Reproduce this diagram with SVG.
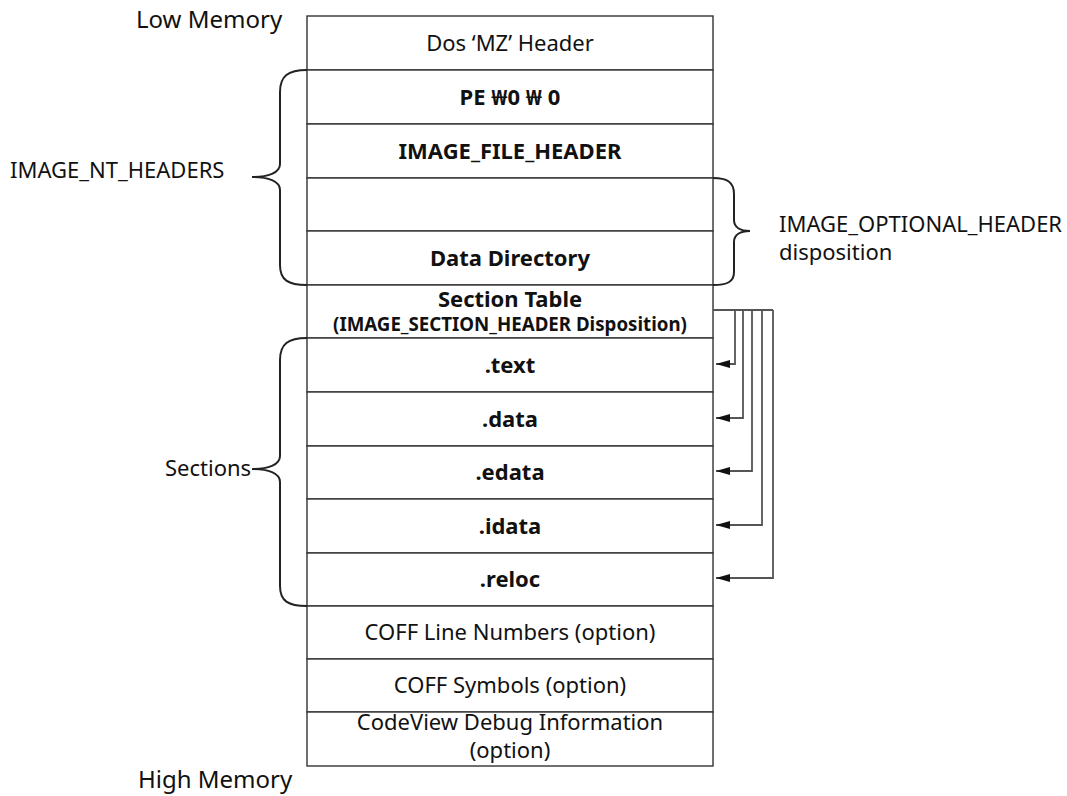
<svg xmlns="http://www.w3.org/2000/svg" width="1067" height="796" viewBox="0 0 1067 796">
  <style>
    .cell { fill: #ffffff; stroke: #333333; stroke-width: 1.4; }
    .t { font-family: "Noto Sans", "Open Sans", "DejaVu Sans", sans-serif; fill: #111111; }
    .c { text-anchor: middle; font-size: 22px; }
    .b { font-weight: bold; }
    .lbl { font-size: 22px; }
    .mem { font-size: 24px; }
    .sub { font-size: 18.7px; }
    .brace { fill: none; stroke: #222222; stroke-width: 2; }
    .wire { fill: none; stroke: #555555; stroke-width: 1.8; }
  </style>
  <defs>
    <marker id="arrow" viewBox="0 0 14 8" refX="14" refY="4" markerWidth="14" markerHeight="8" markerUnits="userSpaceOnUse" orient="auto">
      <path d="M0,0 L14,4 L0,8 Z" fill="#111111"/>
    </marker>
  </defs>

  <rect width="1067" height="796" fill="#ffffff"/>

  <text class="t mem" x="136" y="28">Low Memory</text>
  <text class="t mem" x="138" y="788">High Memory</text>

  <g id="dos-header">
    <rect class="cell" x="307" y="16" width="406" height="54"/>
    <text class="t c" x="510" y="51">Dos ‘MZ’ Header</text>
  </g>
  <g id="pe-signature">
    <rect class="cell" x="307" y="70" width="406" height="54"/>
    <text class="t c b" x="510" y="105">PE ₩0 ₩ 0</text>
  </g>
  <g id="image-file-header">
    <rect class="cell" x="307" y="124" width="406" height="54"/>
    <text class="t c b" x="510" y="159">IMAGE_FILE_HEADER</text>
  </g>
  <g id="optional-header">
    <rect class="cell" x="307" y="178" width="406" height="53"/>
  </g>
  <g id="data-directory">
    <rect class="cell" x="307" y="231" width="406" height="54"/>
    <text class="t c b" x="510" y="266">Data Directory</text>
  </g>
  <g id="section-table">
    <rect class="cell" x="307" y="285" width="406" height="53"/>
    <text class="t c b" x="510" y="307">Section Table<tspan class="sub" x="510" y="331">(IMAGE_SECTION_HEADER Disposition)</tspan></text>
  </g>
  <g id="sec-text">
    <rect class="cell" x="307" y="338" width="406" height="54"/>
    <text class="t c b" x="510" y="373">.text</text>
  </g>
  <g id="sec-data">
    <rect class="cell" x="307" y="392" width="406" height="54"/>
    <text class="t c b" x="510" y="427">.data</text>
  </g>
  <g id="sec-edata">
    <rect class="cell" x="307" y="446" width="406" height="53"/>
    <text class="t c b" x="510" y="480">.edata</text>
  </g>
  <g id="sec-idata">
    <rect class="cell" x="307" y="499" width="406" height="54"/>
    <text class="t c b" x="510" y="534">.idata</text>
  </g>
  <g id="sec-reloc">
    <rect class="cell" x="307" y="553" width="406" height="53"/>
    <text class="t c b" x="510" y="587">.reloc</text>
  </g>
  <g id="coff-lines">
    <rect class="cell" x="307" y="606" width="406" height="53"/>
    <text class="t c" x="510" y="640">COFF Line Numbers (option)</text>
  </g>
  <g id="coff-symbols">
    <rect class="cell" x="307" y="659" width="406" height="53"/>
    <text class="t c" x="510" y="693">COFF Symbols (option)</text>
  </g>
  <g id="codeview">
    <rect class="cell" x="307" y="712" width="406" height="54"/>
    <text class="t c" x="510" y="730">CodeView Debug Information<tspan x="510" y="758">(option)</tspan></text>
  </g>

  <g id="nt-headers-brace">
    <path class="brace" d="M307,70 C288,70 280,76 280,92 L280,164 C280,173 268,177 252,177 C268,177 280,181 280,190 L280,265 C280,280 288,285 307,285"/>
    <text class="t lbl" x="10" y="178">IMAGE_NT_HEADERS</text>
  </g>
  <g id="optional-header-brace">
    <path class="brace" d="M713,178 C727,178 734,182 734,194 L734,220 C734,227 740,231 750,231 C740,231 734,235 734,242 L734,272 C734,282 727,285 713,285"/>
    <text class="t lbl" x="779" y="232">IMAGE_OPTIONAL_HEADER<tspan x="779" y="260">disposition</tspan></text>
  </g>
  <g id="sections-brace">
    <path class="brace" d="M307,338 C288,338 280,344 280,360 L280,456 C280,465 268,469 252,469 C268,469 280,473 280,482 L280,586 C280,601 288,606 307,606"/>
    <text class="t lbl" x="165" y="476">Sections</text>
  </g>

  <g id="connectors">
    <path class="wire" d="M713,310 H773"/>
    <path class="wire" d="M735,310 V364 H716" marker-end="url(#arrow)"/>
    <path class="wire" d="M743,310 V418 H716" marker-end="url(#arrow)"/>
    <path class="wire" d="M752,310 V471 H716" marker-end="url(#arrow)"/>
    <path class="wire" d="M762,310 V525 H716" marker-end="url(#arrow)"/>
    <path class="wire" d="M773,310 V578 H716" marker-end="url(#arrow)"/>
  </g>
</svg>
